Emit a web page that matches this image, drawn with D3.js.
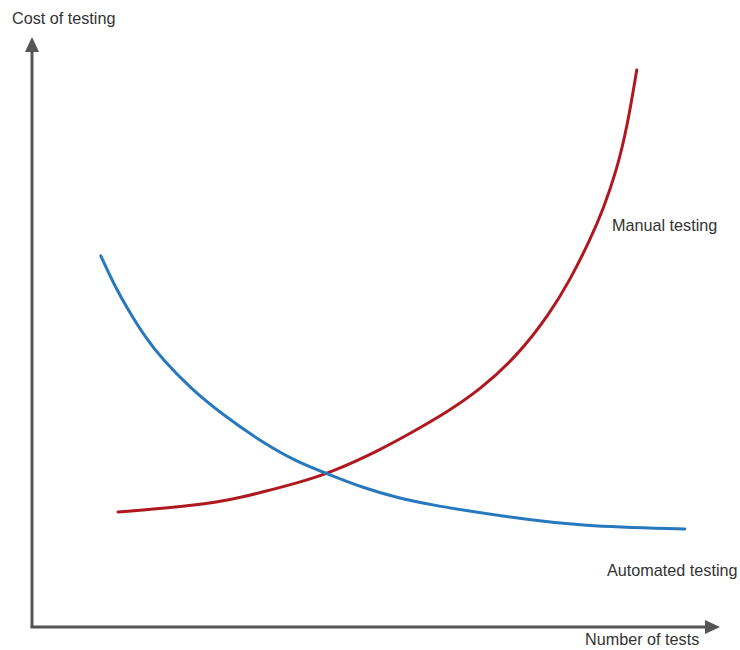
<!DOCTYPE html>
<html>
<head>
<meta charset="utf-8">
<script src="https://cdn.jsdelivr.net/npm/d3@7"></script>
<style>
  body { margin: 0; background: #fff; }
  svg text { font-family: "Liberation Sans", Arial, sans-serif; font-size: 16.2px; fill: #333; }
</style>
</head>
<body>
<div id="chart"></div>
<script>
// number of tests (0-100) vs cost (0-100)
const manualX = [12.5, 21.5, 28.8, 33.6, 38.5, 43.3, 50.6, 55.4, 60.3, 65.1, 70.5, 75.3, 78.2, 81.1, 83.0, 85.0, 86.5, 87.9];
const manualY = [19.5, 20.3, 21.5, 22.9, 24.4, 26.1, 30.0, 33.1, 36.4, 40.2, 45.9, 53.2, 58.8, 65.6, 70.7, 77.5, 84.7, 94.4];
const autoX = [10.0, 12.1, 14.0, 16.4, 19.0, 23.0, 27.8, 33.6, 38.5, 43.3, 48.1, 53.1, 57.8, 69.9, 79.7, 94.9];
const autoY = [62.9, 57.6, 53.7, 49.2, 45.3, 40.5, 35.9, 31.2, 28.0, 25.8, 23.6, 21.9, 20.7, 18.5, 17.1, 16.6];
const seriesNames = ["Manual testing", "Automated testing"];

const width = 740, height = 650;
const svg = d3.select('#chart').append('svg')
    .attr('width', width)
    .attr('height', height);

let x = d3.scaleLinear().domain([0, 100]).range([32, 720]);
let y = d3.scaleLinear().domain([0, 100]).range([627, 37]);

let axisColor = '#555';

// axes with arrow heads
svg.append('line')
    .attr('x1', x(0)).attr('y1', y(0))
    .attr('x2', x(0)).attr('y2', y(100) + 12)
    .attr('stroke', axisColor).attr('stroke-width', 3);
svg.append('line')
    .attr('x1', x(0) - 1.5).attr('y1', y(0))
    .attr('x2', x(100) - 12).attr('y2', y(0))
    .attr('stroke', axisColor).attr('stroke-width', 3);
svg.append('path')
    .attr('d', `M${x(0)},${y(100)} L${x(0) - 7},${y(100) + 15} L${x(0) + 7},${y(100) + 15} Z`)
    .attr('fill', axisColor);
svg.append('path')
    .attr('d', `M${x(100)},${y(0)} L${x(100) - 15},${y(0) - 7} L${x(100) - 15},${y(0) + 7} Z`)
    .attr('fill', axisColor);

let line = d3.line()
    .x(d => x(d[0]))
    .y(d => y(d[1]))
    .curve(d3.curveBasis);

let manual = manualX.map((v, i) => [v, manualY[i]]);
let auto = autoX.map((v, i) => [v, autoY[i]]);

svg.append('path')
    .datum(manual)
    .attr('d', line)
    .attr('fill', 'none')
    .attr('stroke', '#b0181f')
    .attr('stroke-width', 3)
    .attr('stroke-linecap', 'round');

svg.append('path')
    .datum(auto)
    .attr('d', line)
    .attr('fill', 'none')
    .attr('stroke', '#2878bd')
    .attr('stroke-width', 3)
    .attr('stroke-linecap', 'round');

// labels
svg.append('text').attr('x', 12).attr('y', 24).text('Cost of testing');
svg.append('text').attr('x', 585).attr('y', 645).text('Number of tests');
svg.append('text').attr('x', 612).attr('y', 231).text(seriesNames[0]);
svg.append('text').attr('x', 607).attr('y', 576).text(seriesNames[1]);
</script>
</body>
</html>
